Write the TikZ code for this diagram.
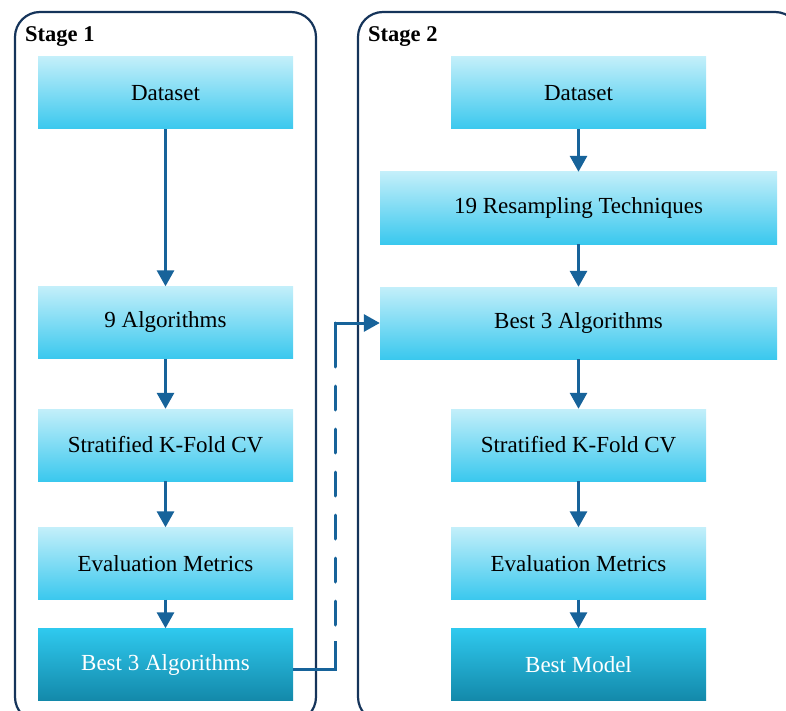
\documentclass[tikz,border=0pt]{standalone}
\usepackage{fontspec}
\setmainfont{Liberation Serif}
\usetikzlibrary{arrows.meta}
\definecolor{frameblue}{HTML}{15345A}
\definecolor{arrowblue}{HTML}{17639A}
\definecolor{lighttop}{HTML}{C3EFFA}
\definecolor{lightbot}{HTML}{3AC8EE}
\definecolor{darktop}{HTML}{2FC9EE}
\definecolor{darkbot}{HTML}{1389AA}
\begin{document}
\begin{tikzpicture}[x=1pt,y=-1pt,
 box/.style={rectangle, inner sep=0pt, minimum height=72pt, top color=lighttop, bottom color=lightbot, font=\fontsize{23}{27}\selectfont, text=black},
 narrow/.style={box, minimum width=255pt},
 wide/.style={box, minimum width=397pt},
 final/.style={narrow, top color=darktop, bottom color=darkbot, text=white},
 frame/.style={draw=frameblue, line width=2.2pt, rounded corners=25pt},
 link/.style={draw=arrowblue, line width=3pt},
 flow/.style={link, -{Triangle[width=17pt,length=16pt]}},
 stagelabel/.style={font=\bfseries\fontsize{22.5}{26}\selectfont, anchor=base west, inner sep=0pt}]
\useasboundingbox (0,0) rectangle (786,711);
\begin{scope}
\clip (0,0) rectangle (786,711);
\draw[frame] (15,12) rectangle (316,722);
\draw[frame] (358,12) rectangle (800,722);
\end{scope}
\node[stagelabel] (s1) at (25,42) {Stage 1};
\node[stagelabel] (s2) at (368,42) {Stage 2};
% left column
\node[narrow] (L1) at (165.5,93) {Dataset};
\node[narrow] (L2) at (165.5,322.5) {9 Algorithms};
\node[narrow] (L3) at (165.5,445) {Stratified K-Fold CV};
\node[narrow] (L4) at (165.5,563.5) {Evaluation Metrics};
\node[final] (L5) at (165.5,664.5) {Best 3 Algorithms};
% right column
\node[narrow] (R1) at (578.5,93) {Dataset};
\node[wide] (R2) at (578.5,208) {19 Resampling Techniques};
\node[wide] (R3) at (578.5,323) {Best 3 Algorithms};
\node[narrow] (R4) at (578.5,445) {Stratified K-Fold CV};
\node[narrow] (R5) at (578.5,563.5) {Evaluation Metrics};
\node[final] (R6) at (578.5,664.5) {Best Model};
% arrows
\draw[flow] (L1) -- (L2);
\draw[flow] (L2) -- (L3);
\draw[flow] (L3) -- (L4);
\draw[flow] (L4) -- (L5);
\draw[flow] (R1) -- (R2);
\draw[flow] (R2) -- (R3);
\draw[flow] (R3) -- (R4);
\draw[flow] (R4) -- (R5);
\draw[flow] (R5) -- (R6);
% connector between stages
\coordinate (c1) at (335,669);
\coordinate (c2) at (335,323);
\draw[link] (L5.east |- c1) -- (c1) -- ++(0,-28);
\draw[link, line cap=round, dash pattern=on 24pt off 19pt, dash phase=-44pt] (c1) -- (c2);
\draw[flow] (c2) ++(0,44) -- (c2) -- (R3.west);
\end{tikzpicture}
\end{document}
